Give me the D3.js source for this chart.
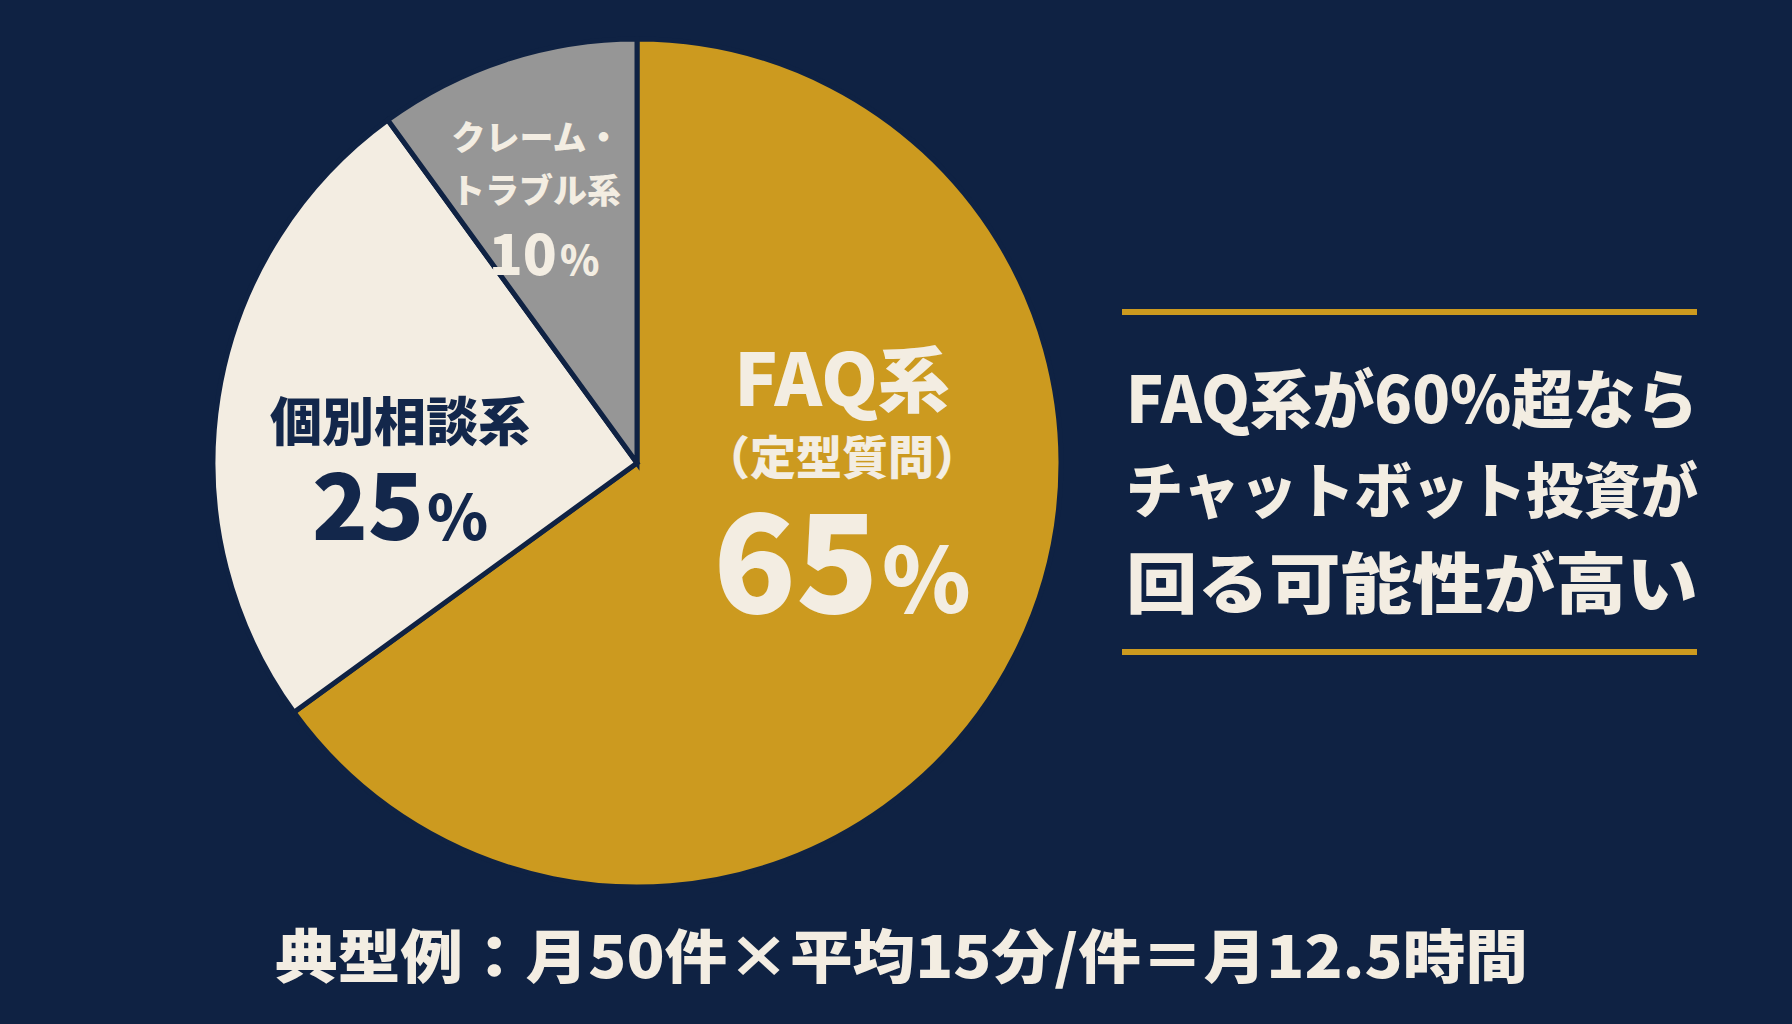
<!DOCTYPE html>
<html><head><meta charset="utf-8">
<script src="https://cdn.jsdelivr.net/npm/d3@7"></script>
<style>
html,body{margin:0;padding:0;background:#0f2243;}
svg{display:block;}
text{font-family:"Noto Sans CJK JP","Noto Sans",sans-serif;font-weight:900;}
</style></head>
<body>
<script>
const categories = ["FAQ系", "個別相談系", "クレーム・トラブル系"];
const values = [65, 25, 10];
const labelLines = [["FAQ系", "（定型質問）"], ["個別相談系"], ["クレーム・", "トラブル系"]];
const percentLabels = ["65", "25", "10"];
const calloutLines = ["FAQ系が60%超なら", "チャットボット投資が", "回る可能性が高い"];
const footnote = "典型例：月50件×平均15分/件＝月12.5時間";

const W = 1792, H = 1024;
const bg = "#0f2243", gold = "#cc9a1f", cream = "#f3ede2", gray = "#969696", navy = "#13274b";
const colors = d3.scaleOrdinal().domain(categories).range([gold, cream, gray]);

const svg = d3.select("body").append("svg").attr("width", W).attr("height", H);
svg.append("rect").attr("width", W).attr("height", H).attr("fill", bg);

const cx = 637, cy = 463, R = 424;
const pie = d3.pie().sort(null).value(d => d)(values);
const arc = d3.arc().innerRadius(0).outerRadius(R);
const g = svg.append("g").attr("transform", `translate(${cx},${cy})`);
g.selectAll("path").data(pie).join("path")
  .attr("d", arc)
  .attr("fill", (d, i) => colors(categories[i]))
  .attr("stroke", bg).attr("stroke-width", 5).attr("stroke-linejoin", "miter");

const lab = [
  {x: 842, lines: [[406, 72], [474, 46]], pct: [613, 136, 90], color: cream},
  {x: 400, lines: [[441, 52]], pct: [540, 92, 62], color: navy},
  {x: 536, lines: [[150, 34], [203, 34]], pct: [275, 56, 40], color: cream}
];
pie.forEach((p, i) => {
  const L = lab[i];
  labelLines[i].forEach((t, j) => {
    svg.append("text").attr("x", L.x).attr("y", L.lines[j][0])
      .attr("text-anchor", "middle").attr("font-size", L.lines[j][1])
      .attr("fill", L.color).text(t);
  });
  const pt = svg.append("text").attr("x", i === 2 ? L.x + 8 : L.x).attr("y", L.pct[0])
    .attr("text-anchor", "middle").attr("fill", L.color);
  pt.append("tspan").attr("font-size", L.pct[1]).text(percentLabels[i]);
  pt.append("tspan").attr("font-size", L.pct[2]).attr("dx", 3).text("%");
});

// Callout box
const lx1 = 1122, lx2 = 1697;
[312, 652].forEach(y => {
  svg.append("line").attr("x1", lx1).attr("x2", lx2).attr("y1", y).attr("y2", y)
    .attr("stroke", gold).attr("stroke-width", 6);
});
const cl = [[423, 64], [513, 60], [608, 66]];
calloutLines.forEach((t, i) => {
  svg.append("text").attr("x", 1126).attr("y", cl[i][0])
    .attr("font-size", cl[i][1]).attr("fill", cream)
    .attr("textLength", 572).attr("lengthAdjust", "spacingAndGlyphs").text(t);
});

// Footnote
svg.append("text").attr("x", 275).attr("y", 978).attr("font-size", 58)
  .attr("fill", cream).attr("textLength", 1253).attr("lengthAdjust", "spacingAndGlyphs")
  .text(footnote);
</script>
</body></html>
